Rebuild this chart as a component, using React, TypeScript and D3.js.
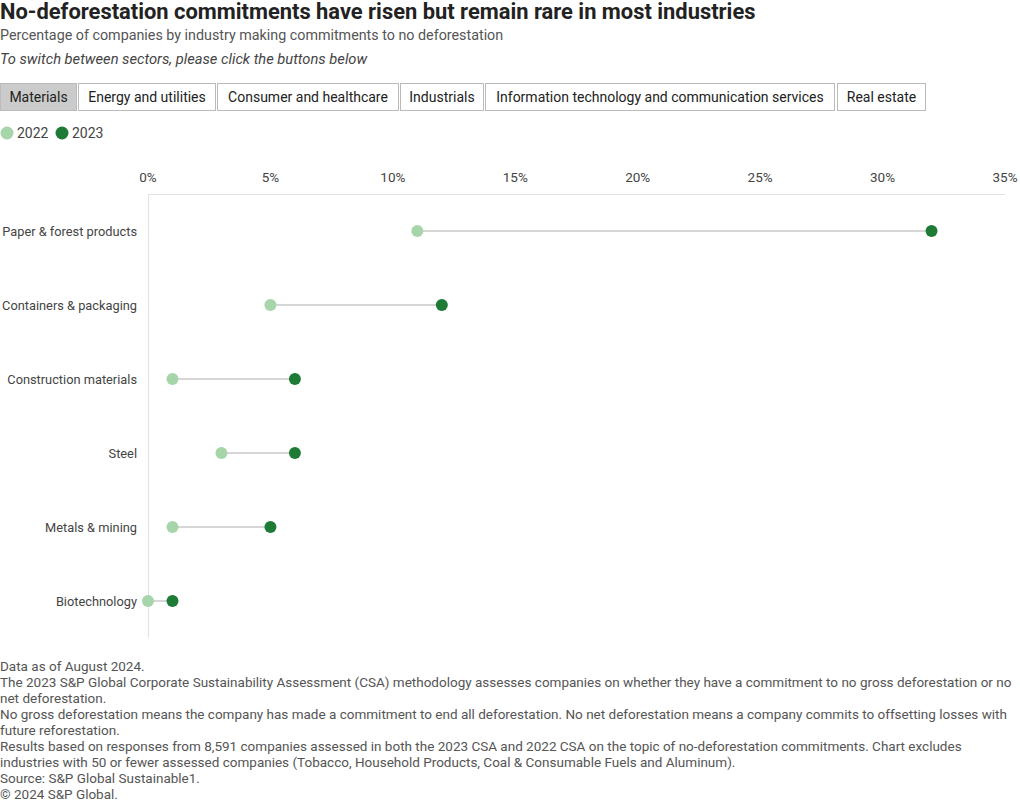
import React from "react";
import * as d3 from "d3";

const categories = [
  "Paper & forest products",
  "Containers & packaging",
  "Construction materials",
  "Steel",
  "Metals & mining",
  "Biotechnology",
];
const values2022 = [11, 5, 1, 3, 1, 0];
const values2023 = [32, 12, 6, 6, 5, 1];
const xTicks = [0, 5, 10, 15, 20, 25, 30, 35];
const sectors = [
  "Materials",
  "Energy and utilities",
  "Consumer and healthcare",
  "Industrials",
  "Information technology and communication services",
  "Real estate",
];
const footnotes = [
  "Data as of August 2024.",
  "The 2023 S&P Global Corporate Sustainability Assessment (CSA) methodology assesses companies on whether they have a commitment to no gross deforestation or no",
  "net deforestation.",
  "No gross deforestation means the company has made a commitment to end all deforestation. No net deforestation means a company commits to offsetting losses with",
  "future reforestation.",
  "Results based on responses from 8,591 companies assessed in both the 2023 CSA and 2022 CSA on the topic of no-deforestation commitments. Chart excludes",
  "industries with 50 or fewer assessed companies (Tobacco, Household Products, Coal & Consumable Fuels and Aluminum).",
  "Source: S&P Global Sustainable1.",
  "© 2024 S&P Global.",
];

const W = 1020;
const H = 803;
const FONT = "Roboto, 'Noto Sans', sans-serif";
const C22 = "#a6d5aa";
const C23 = "#1e7b35";

export default function App() {
  const x = d3.scaleLinear().domain([0, 35]).range([148, 1005]);
  const y = d3.scaleBand().domain(categories).range([194, 638]);

  const btnX = [0, 78, 217, 400, 485, 837];
  const btnW = [76, 137, 181, 83, 349, 88];

  return (
    <svg
      width={W}
      height={H}
      style={{ position: "absolute", left: 0, top: 0, background: "#fff" }}
      fontFamily={FONT}
    >
      <text x={0} y={19} fontSize={21.9} fontWeight={700} fill="#222">
        No-deforestation commitments have risen but remain rare in most industries
      </text>
      <text x={0} y={40} fontSize={14.3} fill="#555">
        Percentage of companies by industry making commitments to no deforestation
      </text>
      <text x={0} y={64} fontSize={14.7} fill="#444" fontStyle="italic">
        To switch between sectors, please click the buttons below
      </text>

      {sectors.map((s, i) => (
        <g key={s}>
          <rect
            x={btnX[i] + 0.5}
            y={83.5}
            width={btnW[i]}
            height={27}
            fill={i === 0 ? "#cbcbcb" : "#fff"}
            stroke="#bbb"
            strokeWidth={1}
          />
          <text
            x={btnX[i] + 0.5 + btnW[i] / 2}
            y={101.5}
            textAnchor="middle"
            fontSize={14}
            fill="#222"
          >
            {s}
          </text>
        </g>
      ))}

      <circle cx={7} cy={133} r={6.5} fill={C22} />
      <text x={17} y={138} fontSize={14} fill="#444">2022</text>
      <circle cx={62} cy={133} r={6.5} fill={C23} />
      <text x={72} y={138} fontSize={14} fill="#444">2023</text>

      {xTicks.map((t) => (
        <text
          key={t}
          x={x(t)}
          y={182}
          textAnchor="middle"
          fontSize={13.5}
          fill="#444"
        >
          {t}%
        </text>
      ))}
      <line x1={x(0)} x2={x(35)} y1={194.5} y2={194.5} stroke="#e2e2e2" />
      <line x1={x(0) + 0.5} x2={x(0) + 0.5} y1={194} y2={638} stroke="#e2e2e2" />

      {categories.map((c, i) => {
        const cy = (y(c) as number) + y.bandwidth() / 2;
        return (
          <g key={c}>
            <text
              x={137}
              y={cy + 5}
              textAnchor="end"
              fontSize={12.8}
              fill="#444"
            >
              {c}
            </text>
            <line
              x1={x(values2022[i])}
              x2={x(values2023[i])}
              y1={cy}
              y2={cy}
              stroke="#c8c8c8"
              strokeWidth={1.5}
            />
            <circle cx={x(values2022[i])} cy={cy} r={6} fill={C22} />
            <circle cx={x(values2023[i])} cy={cy} r={6} fill={C23} />
          </g>
        );
      })}

      {footnotes.map((f, i) => (
        <text key={i} x={0} y={671 + i * 16} fontSize={13.5} fill="#555">
          {f}
        </text>
      ))}
    </svg>
  );
}
